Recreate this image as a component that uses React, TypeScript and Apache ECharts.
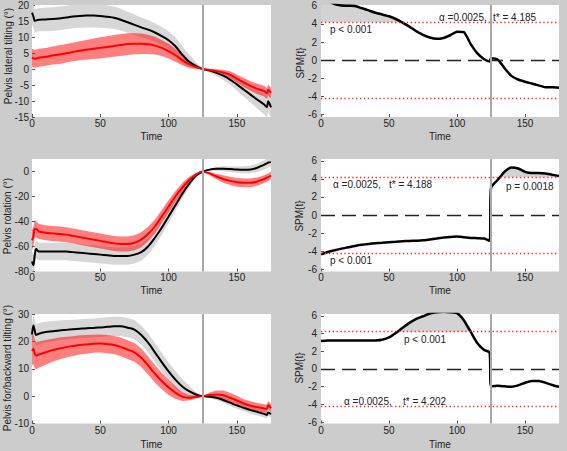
import React, { useEffect, useRef } from "react";
import * as echarts from "echarts";

// ---------- data ----------
const T_MEAN = [0, 1, 2, 3, 5, 10, 15, 20, 25, 30, 35, 40, 45, 50, 55, 60, 65, 70, 75, 80, 85, 90, 95, 100, 105, 110, 115, 120, 125, 130, 135, 140, 145, 150, 155, 160, 165, 170, 172, 173, 175];

const latBlack = [17.6, 16.5, 15.0, 15.2, 15.4, 15.5, 15.6, 15.8, 16.1, 16.4, 16.6, 16.7, 16.7, 16.6, 16.3, 16.0, 15.4, 14.6, 13.8, 13.0, 12.3, 11.4, 10.3, 9.0, 7.1, 4.5, 2.3, 1.0, 0, -0.5, -1.2, -2.1, -3.3, -4.8, -6.4, -8.0, -9.6, -11.1, -11.9, -10.1, -12.0];
const latBlackSD = [3.6, 3.6, 3.6, 3.6, 3.6, 3.7, 3.7, 3.7, 3.7, 3.7, 3.7, 3.7, 3.7, 3.7, 3.6, 3.5, 3.4, 3.3, 3.2, 3.1, 3.0, 2.9, 2.8, 2.8, 2.8, 2.7, 2.2, 1.2, 0, 0.6, 1.0, 1.3, 1.6, 1.9, 2.2, 2.5, 2.8, 3.1, 3.3, 3.4, 3.5];
const latRed = [3.6, 3.3, 3.2, 3.3, 3.5, 3.8, 4.2, 4.5, 4.9, 5.3, 5.7, 6.0, 6.3, 6.6, 6.9, 7.2, 7.5, 7.8, 7.9, 7.9, 7.7, 7.3, 6.6, 5.6, 4.3, 2.8, 1.5, 0.6, 0, -0.3, -0.7, -1.1, -1.8, -3.0, -4.2, -5.3, -6.2, -6.9, -7.6, -6.6, -7.5];
const latRedSD = [2.8, 2.8, 2.8, 2.8, 2.8, 2.8, 2.8, 2.9, 2.9, 2.9, 3.0, 3.1, 3.2, 3.3, 3.3, 3.4, 3.4, 3.4, 3.3, 3.2, 3.0, 2.8, 2.5, 2.3, 2.0, 1.6, 1.0, 0.5, 0, 0.3, 0.6, 0.9, 1.1, 1.3, 1.4, 1.5, 1.6, 1.7, 1.7, 1.7, 1.7];

const rotBlack = [-72, -75, -67, -62, -64, -64, -64, -64, -64, -64.5, -65, -65.5, -66, -66.5, -67, -67.5, -67.5, -67.5, -66.5, -64.5, -60, -53, -45, -36, -27, -18, -10, -3.5, 0, 1.5, 2.2, 2.3, 2.0, 1.6, 1.4, 1.6, 3.0, 5.5, 6.5, 7.2, 7.5];
const rotBlackSD = [8, 8, 8, 7, 7, 7, 7, 7, 7, 7, 7, 7, 7, 7, 7, 7, 7, 7, 7, 6.8, 6.5, 6.2, 5.8, 5.2, 4.5, 3.7, 2.7, 1.3, 0, 0.8, 1.5, 2.0, 2.3, 2.5, 2.8, 3.0, 3.3, 3.7, 3.8, 3.9, 4.0];
const rotRed = [-55, -52, -46, -46, -48, -49, -49.5, -50, -50.5, -51.5, -52.5, -53.5, -54.5, -55.5, -56.5, -57.5, -58, -58, -57, -54.5, -50, -44, -36, -28, -20, -13, -7, -2.5, 0, -1.5, -4, -6, -7.5, -8.6, -9, -9, -8, -6, -5, -4.5, -3.2];
const rotRedSD = [8, 8, 7, 6.5, 6, 6, 6, 6, 6, 6, 6, 6, 6, 6, 6, 6, 6, 6, 6, 6, 5.8, 5.5, 5.2, 5.0, 4.5, 3.8, 2.8, 1.3, 0, 1.2, 2.2, 3.0, 3.3, 3.5, 3.5, 3.5, 3.3, 3.1, 3.0, 3.0, 3.0];

const fbBlack = [22.5, 25.8, 24.0, 22.3, 22.8, 23.4, 23.7, 24.0, 24.2, 24.4, 24.6, 24.8, 24.9, 25.1, 25.3, 25.5, 25.5, 25.0, 24.3, 22.3, 19.5, 16.0, 12.4, 9.0, 6.0, 3.5, 1.8, 0.6, 0, -0.2, -0.6, -1.4, -2.4, -3.4, -4.3, -5.1, -5.8, -6.5, -6.9, -6.0, -6.6];
const fbBlackSD = [4, 4, 4, 4, 3.9, 3.8, 3.7, 3.6, 3.6, 3.5, 3.5, 3.5, 3.5, 3.5, 3.5, 3.5, 3.5, 3.5, 3.5, 3.5, 3.5, 3.4, 3.4, 3.3, 3.1, 2.8, 2.0, 1.0, 0, 0.5, 0.8, 1.0, 1.1, 1.2, 1.2, 1.3, 1.3, 1.3, 1.3, 1.3, 1.3];
const fbRed = [16.5, 17.3, 15.5, 14.8, 15.2, 16.0, 16.8, 17.4, 17.9, 18.3, 18.7, 18.9, 19.1, 19.2, 19.0, 18.7, 18.0, 17.0, 16.0, 14.0, 11.2, 8.2, 5.5, 3.2, 1.3, -0.2, -0.6, -0.3, 0, 0.4, 0.6, 0.3, -0.6, -1.6, -2.7, -3.5, -4.0, -4.5, -4.6, -3.3, -4.4];
const fbRedSD = [5.5, 5.5, 5.3, 5.0, 4.8, 4.5, 4.2, 4.0, 3.8, 3.6, 3.5, 3.4, 3.3, 3.3, 3.3, 3.3, 3.4, 3.4, 3.4, 3.4, 3.3, 3.2, 3.0, 2.8, 2.3, 1.6, 1.0, 0.5, 0, 0.9, 1.5, 1.8, 1.8, 1.7, 1.6, 1.6, 1.5, 1.5, 1.5, 1.5, 1.5];

const T_SPM = [0, 5, 10, 15, 20, 25, 30, 35, 40, 45, 50, 55, 60, 65, 70, 75, 80, 85, 90, 95, 100, 105, 110, 115, 120, 124, 125, 130, 135, 140, 145, 150, 155, 160, 165, 170, 175];
const spmLat = [7.0, 6.6, 6.2, 6.05, 6.02, 6.0, 5.75, 5.5, 5.25, 5.05, 4.85, 4.55, 4.15, 3.7, 3.2, 2.8, 2.5, 2.35, 2.45, 2.75, 3.15, 3.1, 1.8, 0.75, 0.1, -0.15, 0.2, 0.05, -0.9, -1.75, -2.15, -2.4, -2.6, -2.8, -3.0, -3.0, -3.05];
const spmRot = [-4.35, -4.1, -3.9, -3.72, -3.57, -3.42, -3.3, -3.2, -3.12, -3.06, -3.0, -2.95, -2.9, -2.87, -2.84, -2.8, -2.7, -2.6, -2.5, -2.42, -2.38, -2.45, -2.53, -2.56, -2.6, -2.85, 3.0, 3.9, 4.8, 5.25, 5.15, 4.78, 4.65, 4.65, 4.6, 4.45, 4.32];
const spmFb = [3.15, 3.2, 3.22, 3.22, 3.2, 3.2, 3.2, 3.2, 3.22, 3.3, 3.55, 4.05, 4.65, 5.2, 5.65, 5.95, 6.25, 6.4, 6.45, 6.4, 6.3, 5.5, 4.2, 2.9, 2.15, 1.85, -1.95, -1.9, -1.95, -2.0, -1.85, -1.55, -1.35, -1.35, -1.55, -1.8, -2.0];

const thresholds = [4.185, 4.188, 4.202];
const EVENT_T = 125;

const X_TICKS = [0, 50, 100, 150];
const latTicks = [-15, -10, -5, 0, 5, 10, 15, 20];
const rotTicks = [-80, -60, -40, -20, 0];
const fbTicks = [-10, 0, 10, 20, 30];
const spmTicks = [-6, -4, -2, 0, 2, 4, 6];

const yLabels = ["Pelvis lateral tilting (°)", "Pelvis rotation (°)", "Pelvis for/backward tilting (°)"];
const spmLabel = "SPM{t}";

// ---------- layout / style ----------
const X_MAX = 175;
const COL_LEFT = [32, 321];
const COL_W = [239, 238];
const ROW_TOP = [5, 159, 314];
const ROW_H = [112, 112.5, 109.5];
const Y_RANGES: [number, number][] = [[-15, 20], [-6.3, 6.1], [-80, 10], [-6.25, 6.2], [-10, 30], [-6.15, 6.2]];
const FONT = '"Liberation Sans", Arial, sans-serif';
const GRAY_BAND = "#d7d7d7";
const RED_BAND = "rgba(255,0,0,0.5)";
const CLUSTER = "#d3d3d3";
const TXT = "#222";

// clip a polygon against one axis-aligned boundary (pixel space)
function clipAxis(pts: number[][], k: number, c: number, keepGE: boolean) {
  const out: number[][] = [];
  for (let i = 0; i < pts.length; i++) {
    const a = pts[i];
    const b = pts[(i + 1) % pts.length];
    const ina = keepGE ? a[k] >= c : a[k] <= c;
    const inb = keepGE ? b[k] >= c : b[k] <= c;
    if (ina) out.push(a);
    if (ina !== inb) {
      const f = (c - a[k]) / (b[k] - a[k]);
      out.push([a[0] + f * (b[0] - a[0]), a[1] + f * (b[1] - a[1])]);
    }
  }
  return out;
}
function clipToRect(pts: number[][], r: { x: number; y: number; width: number; height: number }) {
  let q = clipAxis(pts, 0, r.x, true);
  q = clipAxis(q, 0, r.x + r.width, false);
  q = clipAxis(q, 1, r.y, true);
  q = clipAxis(q, 1, r.y + r.height, false);
  return q;
}

function bandSeries(p: number, t: number[], mean: number[], sd: number[], color: string, z: number) {
  return {
    type: "custom",
    xAxisIndex: p,
    yAxisIndex: p,
    clip: false,
    silent: true,
    z,
    data: t.map((x, i) => [x, mean[i] - sd[i], mean[i] + sd[i]]),
    encode: { x: 0, y: [1, 2] },
    renderItem: (params: any, api: any) => {
      const n = params.dataInsideLength;
      if (params.dataIndexInside !== n - 1) return null;
      const up: number[][] = [];
      const lo: number[][] = [];
      for (let j = 0; j < n; j++) {
        up.push(api.coord([api.value(0, j), api.value(2, j)]));
        lo.push(api.coord([api.value(0, j), api.value(1, j)]));
      }
      const tl = api.coord([0, Y_RANGES[p][1]]);
      const br = api.coord([X_MAX, Y_RANGES[p][0]]);
      const rect = { x: tl[0], y: tl[1], width: br[0] - tl[0], height: br[1] - tl[1] };
      return {
        type: "polygon",
        shape: { points: clipToRect(up.concat(lo.reverse()), rect) },
        style: { fill: color },
      };
    },
  };
}

function meanLine(p: number, t: number[], v: number[], color: string, z: number, withEvent: boolean) {
  const s: any = {
    type: "line",
    xAxisIndex: p,
    yAxisIndex: p,
    data: t.map((x, i) => [x, v[i]]),
    symbol: "none",
    showSymbol: false,
    smooth: 0.3,
    clip: true,
    silent: true,
    z,
    lineStyle: { color, width: 2 },
  };
  if (withEvent) {
    s.markLine = {
      symbol: "none",
      silent: true,
      animation: false,
      label: { show: false },
      data: [{ xAxis: EVENT_T, lineStyle: { color: "#a9a9a9", type: "solid", width: 2 } }],
    };
  }
  return s;
}

function spmLine(p: number, t: number[], v: number[], thr: number) {
  return {
    type: "line",
    xAxisIndex: p,
    yAxisIndex: p,
    data: t.map((x, i) => [x, v[i]]),
    symbol: "none",
    showSymbol: false,
    smooth: 0.2,
    clip: true,
    silent: true,
    z: 4,
    lineStyle: { color: "#000", width: 2.5 },
    markLine: {
      symbol: "none",
      silent: true,
      animation: false,
      label: { show: false },
      data: [
        { yAxis: thr, lineStyle: { color: "#ff2020", type: [1.3, 2.6], width: 1.3 } },
        { yAxis: -thr, lineStyle: { color: "#ff2020", type: [1.3, 2.6], width: 1.3 } },
        { yAxis: 0, lineStyle: { color: "#222", type: [14, 7], width: 1.4 } },
        { xAxis: EVENT_T, lineStyle: { color: "#a9a9a9", type: "solid", width: 2 } },
      ],
    },
  };
}

const SPM_PANELS: { p: number; values: number[]; thr: number }[] = [
  { p: 1, values: spmLat, thr: thresholds[0] },
  { p: 3, values: spmRot, thr: thresholds[1] },
  { p: 5, values: spmFb, thr: thresholds[2] },
];

function buildOption() {
  const grids: any[] = [];
  const xAxes: any[] = [];
  const yAxes: any[] = [];
  const yTicks = [latTicks, spmTicks, rotTicks, spmTicks, fbTicks, spmTicks];
  for (let row = 0; row < 3; row++) {
    for (let col = 0; col < 2; col++) {
      const p = row * 2 + col;
      grids.push({
        left: COL_LEFT[col],
        top: ROW_TOP[row],
        width: COL_W[col],
        height: ROW_H[row],
        show: true,
        backgroundColor: "#ffffff",
        borderWidth: 0,
        containLabel: false,
        outerBoundsMode: "none",
      });
      xAxes.push({
        type: "value",
        gridIndex: p,
        position: "bottom",
        min: 0,
        max: X_MAX,
        name: "Time",
        nameLocation: "middle",
        nameGap: row === 2 ? 16 : 14,
        nameTextStyle: { fontSize: 10, color: TXT, fontFamily: FONT },
        axisLine: { show: false, onZero: false },
        splitLine: { show: false },
        axisTick: { show: true, inside: true, length: 3, lineStyle: { color: "#555", width: 1 }, customValues: X_TICKS },
        axisLabel: { fontSize: 10, color: TXT, fontFamily: FONT, margin: row === 2 ? 2 : 1, customValues: X_TICKS },
      });
      yAxes.push({
        type: "value",
        gridIndex: p,
        position: "left",
        min: Y_RANGES[p][0],
        max: Y_RANGES[p][1],
        axisLine: { show: false, onZero: false },
        splitLine: { show: false },
        axisTick: { show: true, inside: true, length: 3, lineStyle: { color: "#555", width: 1 }, customValues: yTicks[p] },
        axisLabel: { fontSize: 10, color: TXT, fontFamily: FONT, margin: col === 0 ? 3 : 4, customValues: yTicks[p] },
      });
    }
  }

  const series: any[] = [
    bandSeries(0, T_MEAN, latBlack, latBlackSD, GRAY_BAND, 1),
    bandSeries(0, T_MEAN, latRed, latRedSD, RED_BAND, 2),
    meanLine(0, T_MEAN, latBlack, "#000", 3, true),
    meanLine(0, T_MEAN, latRed, "#ff0000", 4, false),
    bandSeries(2, T_MEAN, rotBlack, rotBlackSD, GRAY_BAND, 1),
    bandSeries(2, T_MEAN, rotRed, rotRedSD, RED_BAND, 2),
    meanLine(2, T_MEAN, rotBlack, "#000", 3, true),
    meanLine(2, T_MEAN, rotRed, "#ff0000", 4, false),
    bandSeries(4, T_MEAN, fbBlack, fbBlackSD, GRAY_BAND, 1),
    bandSeries(4, T_MEAN, fbRed, fbRedSD, RED_BAND, 2),
    meanLine(4, T_MEAN, fbBlack, "#000", 3, true),
    meanLine(4, T_MEAN, fbRed, "#ff0000", 4, false),
  ];
  SPM_PANELS.forEach((s) => series.push(spmLine(s.p, T_SPM, s.values, s.thr)));

  return {
    animation: false,
    backgroundColor: "#cccccc",
    grid: grids,
    xAxis: xAxes,
    yAxis: yAxes,
    series,
  };
}

function textElements() {
  const txt = (text: string, x: number, y: number, rotate = false) => ({
    type: "text",
    x,
    y,
    rotation: rotate ? Math.PI / 2 : 0,
    z: 100,
    silent: true,
    style: {
      text,
      fill: TXT,
      font: `10px ${FONT}`,
      align: rotate ? "center" : "left",
      textAlign: rotate ? "center" : "left",
      verticalAlign: "middle",
      textVerticalAlign: "middle",
    },
  });
  return [
    txt(yLabels[0], 8, 56, true),
    txt(yLabels[1], 7.5, 216, true),
    txt(yLabels[2], 7.5, 368, true),
    txt(spmLabel, 300, 63, true),
    txt(spmLabel, 299.5, 216, true),
    txt(spmLabel, 299.5, 368, true),
    txt("α =0.0025,", 439, 17),
    txt("t* = " + thresholds[0].toFixed(3), 493, 17),
    txt("p < 0.001", 330, 29),
    txt("α =0.0025,", 333, 184),
    txt("t* = " + thresholds[1].toFixed(3), 389, 184),
    txt("p = 0.0018", 506, 186),
    txt("p < 0.001", 330, 260),
    txt("p < 0.001", 404, 339),
    txt("α =0.0025,", 344, 401),
    txt("t* = " + thresholds[2].toFixed(3), 403, 401),
  ];
}

// supra-threshold clusters, converted to pixels through the chart's own axes
function clusterElements(chart: any) {
  const out: any[] = [];
  SPM_PANELS.forEach((s, k) => {
    const finder = { seriesIndex: 12 + k };
    const toPx = (x: number, y: number): number[] => chart.convertToPixel(finder, [x, y]);
    const tl = toPx(0, Y_RANGES[s.p][1]);
    const br = toPx(X_MAX, Y_RANGES[s.p][0]);
    const rect = { x: tl[0], y: tl[1], width: br[0] - tl[0], height: br[1] - tl[1] };
    const thrY = toPx(0, s.thr)[1];
    const polys: number[][][] = [];
    let cur: number[][] | null = null;
    let prevP: number[] = [0, 0];
    let prevV = 0;
    for (let j = 0; j < T_SPM.length; j++) {
      const val = s.values[j];
      const pt = toPx(T_SPM[j], val);
      if (j > 0) {
        const was = prevV > s.thr;
        const is = val > s.thr;
        if (was !== is) {
          const f = (s.thr - prevV) / (val - prevV);
          const cx = prevP[0] + f * (pt[0] - prevP[0]);
          if (is) cur = [[cx, thrY]];
          else if (cur) {
            cur.push([cx, thrY]);
            polys.push(cur);
            cur = null;
          }
        }
      } else if (val > s.thr) cur = [[pt[0], thrY]];
      if (val > s.thr && cur) cur.push(pt);
      prevP = pt;
      prevV = val;
    }
    if (cur) {
      cur.push([prevP[0], thrY]);
      polys.push(cur);
    }
    polys.forEach((pts) =>
      out.push({
        type: "polygon",
        z: 3,
        silent: true,
        shape: { points: clipToRect(pts, rect) },
        style: { fill: CLUSTER },
      })
    );
  });
  return out;
}

export default function App() {
  const ref = useRef<HTMLDivElement>(null);
  useEffect(() => {
    if (!ref.current) return;
    const chart = echarts.init(ref.current, undefined, { renderer: "svg" });
    chart.setOption(buildOption() as any);
    let clusters: any[] = [];
    try {
      clusters = clusterElements(chart);
    } catch (e) {
      clusters = [];
    }
    chart.setOption({ graphic: [...textElements(), ...clusters] } as any);
    return () => chart.dispose();
  }, []);
  return <div ref={ref} style={{ position: "fixed", left: 0, top: 0, width: 567, height: 451 }} />;
}
